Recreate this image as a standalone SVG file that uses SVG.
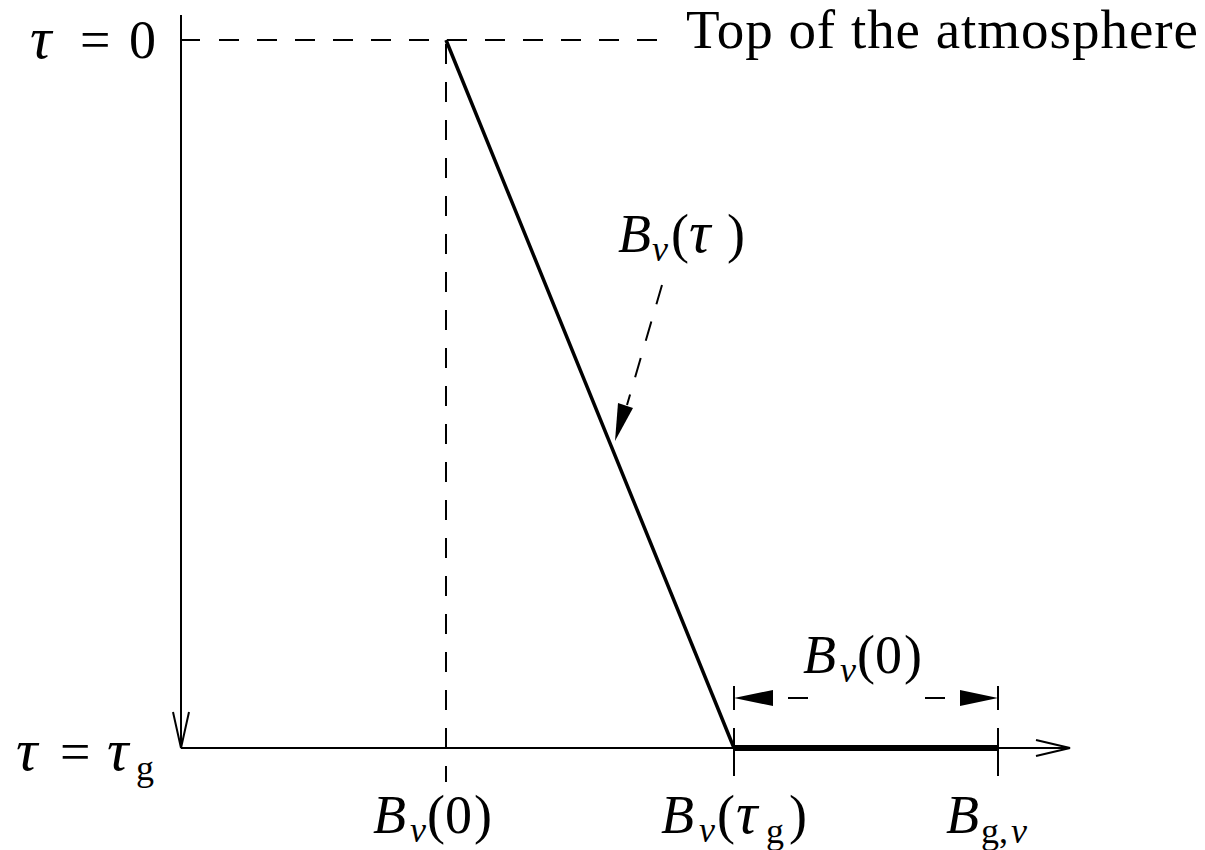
<svg xmlns="http://www.w3.org/2000/svg" width="1205" height="850" viewBox="0 0 1205 850">
<style>
.t{font-family:"Liberation Serif","DejaVu Serif",serif;font-size:54px;fill:#000}
.i{font-style:italic}
.tau{font-style:italic;font-size:60px}
.s{font-size:36px}
.ln{stroke:#000;fill:none;stroke-width:2}
.d{stroke-dasharray:20 18}
</style>
<rect width="1205" height="850" fill="#fff"/>
<g id="connectors">
<line class="ln" x1="181" y1="15" x2="181" y2="748"/>
<polyline class="ln" points="173,712 181,748 189,712"/>
<line class="ln" x1="181" y1="748" x2="1070" y2="748"/>
<polyline class="ln" points="1036,740 1070,748 1036,756"/>
<line class="ln" x1="181" y1="40" x2="200" y2="40"/>
<line class="ln d" x1="219" y1="40" x2="665" y2="40"/>
<line class="ln d" x1="446" y1="44" x2="446" y2="782"/>
<line class="ln" x1="446" y1="40" x2="734" y2="748" style="stroke-width:3.5"/>
<line class="ln" x1="734" y1="748" x2="998" y2="748" style="stroke-width:6"/>
<line class="ln" x1="734" y1="728" x2="734" y2="776"/>
<line class="ln" x1="998" y1="728" x2="998" y2="776"/>
<line class="ln" x1="734" y1="686" x2="734" y2="710"/>
<line class="ln" x1="998" y1="686" x2="998" y2="710"/>
<path d="M734,698 L773,690 L773,706 z" fill="#000"/>
<path d="M998,698 L960,690 L960,706 z" fill="#000"/>
<line class="ln" x1="788" y1="698" x2="808" y2="698"/>
<line class="ln" x1="925" y1="698" x2="945" y2="698"/>
<line class="ln" x1="662" y1="285" x2="627" y2="405" stroke-dasharray="20 18"/>
<path d="M615,441 L618,403 L633,408 z" fill="#000"/>
</g>
<g id="label-tau0"><text class="t" y="58"><tspan class="tau" x="30">τ</tspan><tspan x="80">=</tspan><tspan x="129">0</tspan></text></g>
<g id="label-top"><text class="t" x="686" y="48" style="font-size:55px" textLength="512" lengthAdjust="spacing">Top of the atmosphere</text></g>
<g id="label-btau"><text class="t" y="252"><tspan class="i" x="618">B</tspan><tspan class="i s" x="652" y="261">ν</tspan><tspan x="671" y="252">(</tspan><tspan class="tau" x="689">τ</tspan><tspan x="727">)</tspan></text></g>
<g id="label-b0-dim"><text class="t" y="673"><tspan class="i" x="803">B</tspan><tspan class="i s" x="840" y="682">ν</tspan><tspan x="857" y="673">(</tspan><tspan x="875">0</tspan><tspan x="904">)</tspan></text></g>
<g id="label-taug"><text class="t" y="770"><tspan class="tau" x="16">τ</tspan><tspan x="60">=</tspan><tspan class="tau" x="107">τ</tspan><tspan class="s" x="136" y="780">g</tspan></text></g>
<g id="label-b0"><text class="t" y="833"><tspan class="i" x="373">B</tspan><tspan class="i s" x="410" y="842">ν</tspan><tspan x="427" y="833">(</tspan><tspan x="445">0</tspan><tspan x="474">)</tspan></text></g>
<g id="label-btaug"><text class="t" y="833"><tspan class="i" x="661">B</tspan><tspan class="i s" x="699" y="842">ν</tspan><tspan x="717" y="833">(</tspan><tspan class="tau" x="736">τ</tspan><tspan class="s" x="766" y="843">g</tspan><tspan x="789" y="833">)</tspan></text></g>
<g id="label-bg"><text class="t" y="833"><tspan class="i" x="946">B</tspan><tspan class="s" x="981" y="843">g,</tspan><tspan class="i s" x="1011">ν</tspan></text></g>
</svg>
